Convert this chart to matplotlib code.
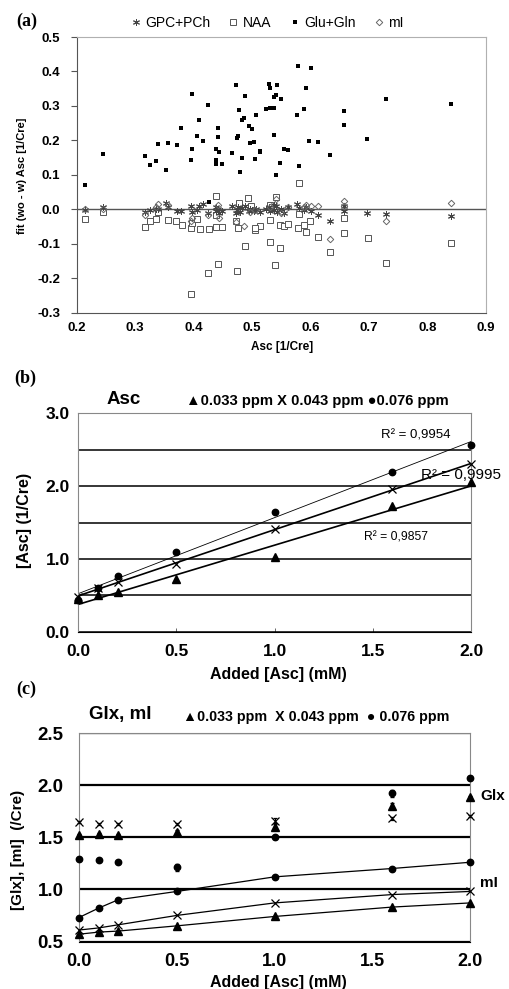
import matplotlib
matplotlib.use("Agg")
import matplotlib.pyplot as plt
import numpy as np
from matplotlib.ticker import MultipleLocator, FormatStrFormatter

plt.rcParams['font.family'] = ['Liberation Sans', 'DejaVu Sans']
plt.rcParams['axes.unicode_minus'] = False

# ---------------- Panel (a) data ----------------
glu_x = [0.215, 0.245, 0.317, 0.326, 0.335, 0.339, 0.352, 0.356, 0.371, 0.379, 0.396, 0.398,
         0.398, 0.406, 0.410, 0.416, 0.424, 0.427, 0.438, 0.438, 0.439, 0.442, 0.442, 0.443,
         0.448, 0.466, 0.472, 0.475, 0.476, 0.478, 0.479, 0.482, 0.483, 0.486, 0.488, 0.494,
         0.496, 0.500, 0.504, 0.505, 0.507, 0.513, 0.514, 0.524, 0.529, 0.530, 0.531, 0.537,
         0.538, 0.538, 0.540, 0.540, 0.543, 0.547, 0.549, 0.554, 0.562, 0.577, 0.579, 0.580,
         0.588, 0.593, 0.598, 0.600, 0.613, 0.634, 0.657, 0.657, 0.697, 0.729, 0.840]
glu_y = [0.069, 0.159, 0.156, 0.129, 0.140, 0.189, 0.115, 0.193, 0.186, 0.235, 0.142, 0.335,
         0.175, 0.214, 0.259, 0.198, 0.302, 0.021, 0.175, 0.142, 0.130, 0.235, 0.210, 0.165,
         0.132, 0.162, 0.360, 0.207, 0.214, 0.287, 0.107, 0.150, 0.259, 0.265, 0.330, 0.241,
         0.193, 0.232, 0.195, 0.145, 0.273, 0.170, 0.165, 0.290, 0.365, 0.353, 0.293, 0.327,
         0.295, 0.215, 0.333, 0.099, 0.360, 0.134, 0.320, 0.175, 0.172, 0.274, 0.416, 0.126,
         0.290, 0.352, 0.198, 0.410, 0.196, 0.157, 0.285, 0.246, 0.205, 0.319, 0.306]

naa_x = [0.215, 0.245, 0.316, 0.325, 0.335, 0.339, 0.356, 0.370, 0.380, 0.396, 0.397, 0.396,
         0.406, 0.411, 0.425, 0.427, 0.438, 0.438, 0.438, 0.441, 0.448, 0.474, 0.476, 0.473,
         0.478, 0.487, 0.493, 0.505, 0.513, 0.505, 0.498, 0.530, 0.530, 0.531, 0.539, 0.540,
         0.547, 0.547, 0.554, 0.562, 0.580, 0.580, 0.578, 0.589, 0.593, 0.599, 0.613, 0.634,
         0.658, 0.658, 0.698, 0.729, 0.840]
naa_y = [-0.027, -0.007, -0.052, -0.035, -0.028, -0.007, -0.032, -0.035, -0.047, -0.053, -0.039, -0.245,
         -0.027, -0.057, -0.186, -0.058, 0.039, -0.052, -0.017, -0.159, -0.052, -0.178, -0.055, -0.035,
         0.018, -0.106, 0.032, -0.060, -0.050, -0.055, 0.010, -0.096, 0.013, -0.031, -0.162, 0.036,
         -0.113, -0.045, -0.050, -0.043, 0.076, -0.015, -0.054, -0.046, -0.067, -0.033, -0.080, -0.125,
         -0.024, -0.070, -0.084, -0.155, -0.098]

gpc_x = [0.215, 0.245, 0.317, 0.326, 0.335, 0.339, 0.352, 0.356, 0.371, 0.379, 0.396, 0.398,
         0.406, 0.410, 0.416, 0.424, 0.438, 0.439, 0.442, 0.443, 0.448, 0.466, 0.472, 0.475,
         0.476, 0.479, 0.483, 0.488, 0.494, 0.496, 0.500, 0.504, 0.507, 0.513, 0.524, 0.529,
         0.531, 0.537, 0.538, 0.540, 0.543, 0.549, 0.554, 0.562, 0.577, 0.580, 0.588, 0.593,
         0.600, 0.613, 0.634, 0.657, 0.657, 0.697, 0.729, 0.840]
gpc_y = [-0.002, 0.006, -0.009, -0.002, 0.000, 0.002, 0.019, 0.006, -0.004, -0.005, 0.010, -0.007,
         -0.002, 0.008, 0.014, -0.012, 0.006, -0.004, 0.000, -0.012, -0.004, 0.010, -0.012, -0.002,
         0.006, -0.007, 0.003, 0.010, -0.004, 0.002, -0.002, -0.006, 0.000, -0.008, 0.000, 0.006,
         -0.004, 0.013, -0.002, 0.008, -0.007, 0.000, -0.012, 0.006, 0.016, 0.003, -0.002, 0.006,
         -0.004, -0.018, -0.035, -0.004, 0.008, -0.010, -0.014, -0.020]

mi_x = [0.215, 0.245, 0.317, 0.335, 0.339, 0.356, 0.398, 0.396, 0.424, 0.442, 0.443, 0.472,
        0.486, 0.496, 0.505, 0.531, 0.540, 0.549, 0.562, 0.588, 0.593, 0.600, 0.613, 0.634,
        0.657, 0.657, 0.729, 0.840]
mi_y = [0.000, 0.000, -0.018, 0.006, 0.015, 0.013, -0.026, -0.035, -0.016, 0.013, -0.026, -0.036,
        -0.048, -0.008, -0.002, 0.006, 0.031, -0.012, 0.006, 0.006, 0.013, 0.008, 0.008, -0.086,
        0.024, 0.008, -0.035, 0.017]

a_xticks = [0.2, 0.3, 0.4, 0.5, 0.6, 0.7, 0.8, 0.9]
a_yticks = [-0.3, -0.2, -0.1, 0.0, 0.1, 0.2, 0.3, 0.4, 0.5]

# ---------------- Panel (b) data ----------------
added = [0.0, 0.1, 0.2, 0.5, 1.0, 1.6, 2.0]
asc_033 = [0.45, 0.50, 0.54, 0.72, 1.03, 1.72, 2.06]
asc_043 = [0.48, 0.60, 0.68, 0.93, 1.41, 1.96, 2.30]
asc_076 = [0.44, 0.60, 0.77, 1.09, 1.65, 2.19, 2.56]
r2_labels = ["R\u00b2 = 0,9954", "R\u00b2 = 0,9995", "R\u00b2 = 0,9857"]

# ---------------- Panel (c) data ----------------
glx_033 = [1.52, 1.53, 1.52, 1.55, 1.60, 1.80, 1.89]
glx_043 = [1.65, 1.63, 1.63, 1.63, 1.66, 1.68, 1.70]
glx_076 = [1.29, 1.28, 1.26, 1.21, 1.50, 1.92, 2.07]
glx_033_err = [0.01, 0.01, 0.01, 0.02, 0.03, 0.03, 0.01]
glx_043_err = [0.01, 0.01, 0.01, 0.01, 0.02, 0.01, 0.01]
glx_076_err = [0.01, 0.01, 0.01, 0.03, 0.02, 0.03, 0.01]
mi_033 = [0.57, 0.59, 0.60, 0.65, 0.74, 0.83, 0.87]
mi_043 = [0.61, 0.63, 0.66, 0.75, 0.87, 0.95, 0.98]
mi_076 = [0.73, 0.82, 0.90, 0.98, 1.12, 1.20, 1.26]

W, H = 510, 989
def fx(x):
    return x / W
def fy(y):
    return 1 - y / H

fig = plt.figure(figsize=(5.1, 9.89), dpi=100)

# ======== (a) ========
ax1 = fig.add_axes([fx(76.7), fy(312.6), (486 - 76.7) / W, (312.6 - 37) / H])
ax1.axhline(0, color='#555555', lw=1.0, zorder=1)
h_gpc, = ax1.plot(gpc_x, gpc_y, ls='none', marker=(6, 2, 0), ms=5, mew=0.7,
                  color='#444444', label='GPC+PCh', zorder=3)
h_naa, = ax1.plot(naa_x, naa_y, ls='none', marker='s', ms=4.3, mew=0.7, mfc='white',
                  mec='#555555', label='NAA', zorder=2)
h_glu, = ax1.plot(glu_x, glu_y, ls='none', marker='s', ms=3.4, mew=0, color='black',
                  label='Glu+Gln', zorder=4)
h_mi, = ax1.plot(mi_x, mi_y, ls='none', marker='D', ms=3.3, mew=0.7, mfc='none',
                 mec='#666666', label='mI', zorder=3)
ax1.set_xlim(0.2, 0.9)
ax1.set_ylim(-0.3, 0.5)
ax1.set_xticks(a_xticks)
ax1.set_yticks(a_yticks)
ax1.xaxis.set_major_formatter(FormatStrFormatter('%.1f'))
ax1.yaxis.set_major_formatter(FormatStrFormatter('%.1f'))
ax1.tick_params(axis='x', length=0, pad=7, labelsize=9.5)
ax1.tick_params(axis='y', length=4, width=0.8, color='#555555', pad=8, labelsize=9.5)
for lab in ax1.get_xticklabels() + ax1.get_yticklabels():
    lab.set_fontweight('bold')
for s in ['left', 'bottom']:
    ax1.spines[s].set_color('#555555')
for s in ['top', 'right']:
    ax1.spines[s].set_color('#b0b0b0')
fig.legend(handles=[h_gpc, h_naa, h_glu, h_mi], loc='center', bbox_to_anchor=(fx(267), fy(22.7)),
           ncol=4, frameon=False, fontsize=10, handlelength=0.8, handletextpad=0.3,
           columnspacing=1.25, borderpad=0)
fig.text(fx(22), fy(176), 'fit (wo - w) Asc [1/Cre]', rotation=90, ha='center', va='center',
         fontsize=8, fontweight='bold')
fig.text(fx(282), fy(347), 'Asc [1/Cre]', ha='center', va='center', fontsize=8.5, fontweight='bold')
fig.text(fx(27), fy(21), '(a)', ha='center', va='center', fontsize=13, fontweight='bold',
         family='Liberation Serif')

# ======== (b) ========
ax2 = fig.add_axes([fx(78.3), fy(631.7), (471 - 78.3) / W, (631.7 - 413.3) / H])
xs = np.array(added)
fit_styles = [(asc_076, 0.6), (asc_043, 1.2), (asc_033, 1.2)]
for yv, lw in fit_styles:
    p = np.polyfit(xs, np.array(yv), 1)
    xl = np.array([0.0, 2.0])
    ax2.plot(xl, np.polyval(p, xl), color='black', lw=lw, zorder=2)
ax2.plot(added, asc_033, ls='none', marker='^', ms=6, color='black', zorder=3, clip_on=False)
ax2.plot(added, asc_043, ls='none', marker='x', ms=6, mew=0.9, color='black', zorder=3, clip_on=False)
ax2.plot(added, asc_076, ls='none', marker='o', ms=4.6, color='black', zorder=3, clip_on=False)
ax2.set_xlim(0, 2.0)
ax2.set_ylim(0, 3.0)
ax2.set_xticks([0.0, 0.5, 1.0, 1.5, 2.0])
ax2.set_yticks([0.0, 1.0, 2.0, 3.0])
ax2.yaxis.set_minor_locator(MultipleLocator(0.5))
ax2.grid(axis='y', which='both', color='black', lw=1.1, zorder=0)
ax2.set_axisbelow(True)
ax2.xaxis.set_major_formatter(FormatStrFormatter('%.1f'))
ax2.yaxis.set_major_formatter(FormatStrFormatter('%.1f'))
ax2.tick_params(axis='x', direction='in', length=3, width=0.7, color='#666666', pad=9, labelsize=12.5)
ax2.tick_params(axis='y', which='both', length=0, pad=6, labelsize=12.5)
for lab in ax2.get_xticklabels() + ax2.get_yticklabels():
    lab.set_fontweight('bold')
for s in ['left', 'top', 'right']:
    ax2.spines[s].set_color('#888888')
ax2.spines['bottom'].set_color('black')
fig.text(fx(416), fy(436), r2_labels[0], ha='center', va='center', fontsize=9.5)
fig.text(fx(461), fy(475), r2_labels[1], ha='center', va='center', fontsize=11)
fig.text(fx(396), fy(537), r2_labels[2], ha='center', va='center', fontsize=8.7)
fig.text(fx(124), fy(399), 'Asc', ha='center', va='center', fontsize=13.5, fontweight='bold')
fig.text(fx(317), fy(401), '\u25b20.033 ppm X 0.043 ppm \u25cf0.076 ppm', ha='center', va='center',
         fontsize=10.6, fontweight='bold')
fig.text(fx(25), fy(520), '[Asc] (1/Cre)', rotation=90, ha='center', va='center',
         fontsize=11.5, fontweight='bold')
fig.text(fx(278), fy(675), 'Added [Asc] (mM)', ha='center', va='center', fontsize=11.5,
         fontweight='bold')
fig.text(fx(25), fy(378), '(b)', ha='center', va='center', fontsize=13, fontweight='bold',
         family='Liberation Serif')

# ======== (c) ========
ax3 = fig.add_axes([fx(79), fy(941.5), (470 - 79) / W, (941.5 - 733) / H])
ax3.errorbar(added, glx_033, yerr=glx_033_err, ls='none', marker='^', ms=6, color='black',
             elinewidth=0.8, capsize=1.5, zorder=3, clip_on=False)
ax3.errorbar(added, glx_043, yerr=glx_043_err, ls='none', marker='x', ms=6, mew=0.9,
             color='black', elinewidth=0.8, capsize=1.5, zorder=3, clip_on=False)
ax3.errorbar(added, glx_076, yerr=glx_076_err, ls='none', marker='o', ms=4.6, color='black',
             elinewidth=0.8, capsize=1.5, zorder=3, clip_on=False)
ax3.plot(added, mi_033, ls='-', lw=0.9, marker='^', ms=6, color='black', zorder=3, clip_on=False)
ax3.plot(added, mi_043, ls='-', lw=0.9, marker='x', ms=6, mew=0.9, color='black', zorder=3,
         clip_on=False)
ax3.plot(added, mi_076, ls='-', lw=0.9, marker='o', ms=4.6, color='black', zorder=3, clip_on=False)
ax3.set_xlim(0, 2.0)
ax3.set_ylim(0.5, 2.5)
ax3.set_xticks([0.0, 0.5, 1.0, 1.5, 2.0])
ax3.set_yticks([0.5, 1.0, 1.5, 2.0, 2.5])
ax3.grid(axis='y', color='black', lw=1.6, zorder=0)
ax3.set_axisbelow(True)
ax3.xaxis.set_major_formatter(FormatStrFormatter('%.1f'))
ax3.yaxis.set_major_formatter(FormatStrFormatter('%.1f'))
ax3.tick_params(axis='x', length=0, pad=8, labelsize=13)
ax3.tick_params(axis='y', length=0, pad=11, labelsize=13.5)
for lab in ax3.get_xticklabels() + ax3.get_yticklabels():
    lab.set_fontweight('bold')
for s in ['left', 'top', 'right']:
    ax3.spines[s].set_color('#888888')
ax3.spines['bottom'].set_color('black')
fig.text(fx(120), fy(715), 'Glx, mI', ha='center', va='center', fontsize=13.5, fontweight='bold')
fig.text(fx(316), fy(717), '\u25b20.033 ppm  X 0.043 ppm  \u25cf 0.076 ppm', ha='center',
         va='center', fontsize=10.3, fontweight='bold')
fig.text(fx(493), fy(796), 'Glx', ha='center', va='center', fontsize=11, fontweight='bold')
fig.text(fx(489), fy(883), 'mI', ha='center', va='center', fontsize=11, fontweight='bold')
fig.text(fx(18), fy(850), '[Glx], [mI]  (/Cre)', rotation=90, ha='center', va='center',
         fontsize=11, fontweight='bold')
fig.text(fx(278), fy(982), 'Added [Asc] (mM)', ha='center', va='center', fontsize=11.5,
         fontweight='bold')
fig.text(fx(26), fy(689), '(c)', ha='center', va='center', fontsize=13, fontweight='bold',
         family='Liberation Serif')

fig.savefig('out.png', dpi=100)
